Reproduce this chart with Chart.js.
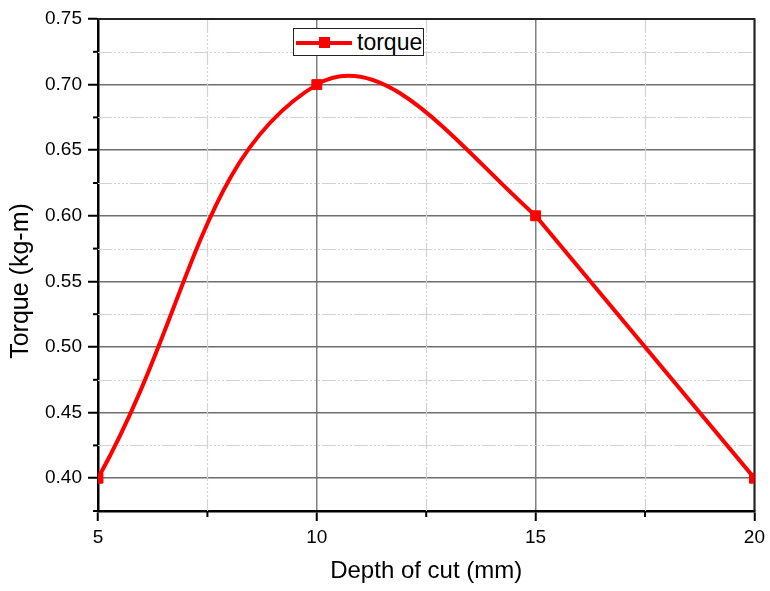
<!DOCTYPE html>
<html>
<head>
<meta charset="utf-8">
<script src="https://cdn.jsdelivr.net/npm/chart.js@4/dist/chart.umd.min.js"></script>
<style>
body{margin:0;background:#fff;}
#wrap{position:relative;width:770px;height:591px;}
#legend{position:absolute;left:293px;top:28px;width:129px;height:26px;border:1px solid #222;background:#fff;font-family:"Liberation Sans",Arial,sans-serif;}
#legend .ln{position:absolute;left:2px;top:12px;width:56px;height:4px;background:#f00;}
#legend .mk{position:absolute;left:25px;top:8px;width:11px;height:11px;background:#f00;}
#legend .tx{position:absolute;left:63px;top:0;font-size:23px;line-height:26px;color:#000;}
</style>
</head>
<body>
<div id="wrap">
<canvas id="c" width="770" height="591"></canvas>
<div id="legend"><span class="ln"></span><span class="mk"></span><span class="tx">torque</span></div>
</div>
<script>
const depthCut=[5,10,15,20];
const torque=[0.40,0.70,0.60,0.40];
const xMajor=[5,10,15,20];
const yMajor=[0.40,0.45,0.50,0.55,0.60,0.65,0.70,0.75];
const yTitle='Torque (kg-m)';

const isMajor=(v,list)=>list.some(m=>Math.abs(m-v)<1e-6);
const font='"Liberation Sans", Arial, sans-serif';
const pts=(a,b)=>a.map((d,i)=>({x:d,y:b[i]}));

const minorGrid={id:'minorGrid',
  beforeDatasetsDraw(chart){
    const {ctx,chartArea:a,scales:{x,y}}=chart;
    ctx.save();
    ctx.strokeStyle='#d2d2d2';ctx.lineWidth=1.2;ctx.setLineDash([14,2,2,2,2,2,2,2,2,2]);
    x.ticks.forEach(t=>{
      if(isMajor(t.value,xMajor))return;
      const p=Math.round(x.getPixelForValue(t.value))+0.5;
      ctx.beginPath();ctx.moveTo(p,a.top);ctx.lineTo(p,a.bottom);ctx.stroke();
    });
    y.ticks.forEach(t=>{
      if(isMajor(t.value,yMajor)||t.value<0.38)return;
      const p=Math.round(y.getPixelForValue(t.value))+0.5;
      ctx.beginPath();ctx.moveTo(a.left,p);ctx.lineTo(a.right,p);ctx.stroke();
    });
    ctx.setLineDash([]);ctx.strokeStyle='#000';ctx.lineWidth=2;
    x.ticks.forEach(t=>{
      if(isMajor(t.value,xMajor))return;
      const p=x.getPixelForValue(t.value);
      ctx.beginPath();ctx.moveTo(p,a.bottom);ctx.lineTo(p,a.bottom+6);ctx.stroke();
    });
    y.ticks.forEach(t=>{
      if(isMajor(t.value,yMajor))return;
      const p=y.getPixelForValue(t.value);
      ctx.beginPath();ctx.moveTo(a.left-5,p);ctx.lineTo(a.left,p);ctx.stroke();
    });
    ctx.strokeStyle='#222';ctx.lineWidth=2;
    ctx.beginPath();ctx.moveTo(a.left,a.top);ctx.lineTo(a.right,a.top);ctx.lineTo(a.right,a.bottom);ctx.stroke();
    ctx.restore();
  },
  afterDraw(chart){
    // y title sits a bit below the plot centre, as in the reference
    const ctx=chart.ctx;
    ctx.save();
    ctx.translate(21,281);ctx.rotate(-Math.PI/2);
    ctx.font='25px '+font;ctx.fillStyle='#000';ctx.textAlign='center';ctx.textBaseline='middle';
    ctx.fillText(yTitle,0,0);
    ctx.restore();
  }};

new Chart(document.getElementById('c'),{
  type:'line',
  data:{datasets:[
    {label:'torque',data:pts(depthCut,torque),
      borderColor:'#f00',backgroundColor:'#f00',borderWidth:4,tension:0.42,
      segment:{borderColor:c=>c.p1DataIndex===depthCut.length-1?'rgba(0,0,0,0)':undefined},
      pointStyle:'rect',pointRadius:7,pointBorderWidth:1,pointBackgroundColor:'#f00',pointBorderColor:'#f00'},
    {label:'torque-tail',data:pts(depthCut.slice(-2),torque.slice(-2)),
      borderColor:'#f00',borderWidth:4,tension:0,pointRadius:0}
  ]},
  options:{
    responsive:false,animation:false,
    layout:{padding:{left:0,right:14,top:19,bottom:0}},
    plugins:{legend:{display:false},tooltip:{enabled:false}},
    scales:{
      x:{type:'linear',min:5,max:20,
        afterFit(s){s.height=80;},
        ticks:{stepSize:2.5,padding:5,color:'#000',font:{family:font,size:19},
          callback:v=>isMajor(v,xMajor)?String(v):''},
        grid:{color:c=>isMajor(c.tick.value,xMajor)?'#808080':'rgba(0,0,0,0)',lineWidth:1.5,
          tickColor:c=>isMajor(c.tick.value,xMajor)?'#000':'rgba(0,0,0,0)',tickLength:10,tickWidth:2},
        border:{color:'#000',width:2.5},
        title:{display:true,text:'Depth of cut (mm)',color:'#000',font:{family:font,size:24},padding:{top:0,bottom:5}}},
      y:{min:0.375,max:0.75,
        afterFit(s){s.width=98;},
        ticks:{stepSize:0.025,padding:6,color:'#000',font:{family:font,size:19},
          callback:v=>isMajor(v,yMajor)?v.toFixed(2):''},
        grid:{color:c=>isMajor(c.tick.value,yMajor)?'#6e6e6e':'rgba(0,0,0,0)',lineWidth:1.5,
          tickColor:c=>isMajor(c.tick.value,yMajor)?'#000':'rgba(0,0,0,0)',tickLength:10,tickWidth:2},
        border:{color:'#000',width:2.5}}
    }
  },
  plugins:[minorGrid]
});
</script>
</body>
</html>
